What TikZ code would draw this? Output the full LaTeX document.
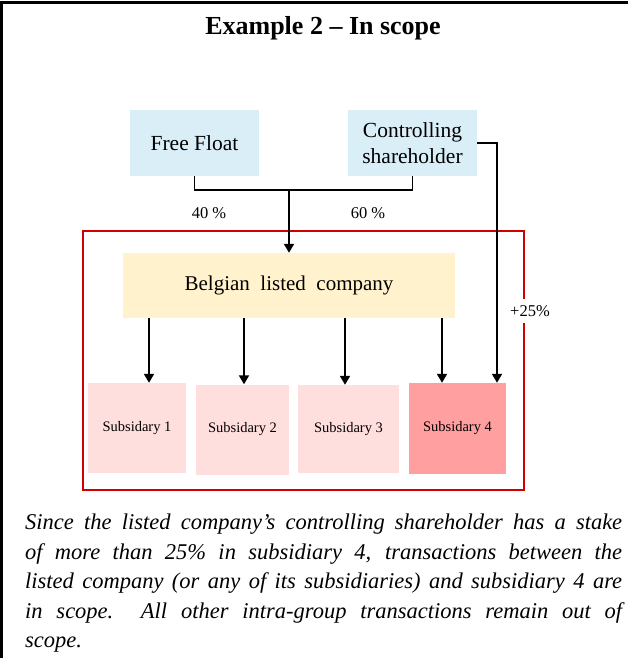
\documentclass[tikz,border=0pt]{standalone}
\usepackage{fontspec}
\setmainfont{Liberation Serif}
\usepackage{tikz}
\usetikzlibrary{arrows.meta,positioning}

\definecolor{holderblue}{HTML}{DAEEF8}
\definecolor{listedyellow}{HTML}{FFF2CC}
\definecolor{subpink}{HTML}{FFDEDE}
\definecolor{subred}{HTML}{FF9F9F}
\definecolor{scopered}{HTML}{D00000}

\begin{document}
\begin{tikzpicture}[
x=1pt, y=-1pt,
holder/.style={fill=holderblue, minimum width=129pt, minimum height=66pt, align=center, font=\fontsize{21.5}{26}\selectfont},
listed/.style={fill=listedyellow, minimum width=332pt, minimum height=65pt, font=\fontsize{21}{25}\selectfont},
subbox/.style={fill=subpink, minimum width=98pt, minimum height=90pt, font=\fontsize{14.5}{17}\selectfont},
pct/.style={font=\fontsize{16.5}{19}\selectfont},
owns/.style={-{Triangle[length=9pt,width=10pt]},line width=1.8pt},
tree/.style={line width=1.4pt}
]
    \useasboundingbox (0,0) rectangle (628,658);

    % Draw frame
    \draw[line width=2.4pt] (1.5,658) -- (1.5,2.5) -- (628,2.5);

    \node (title) at (323,28) {\bfseries\fontsize{26}{30}\selectfont Example 2 -- In scope};

    % Shareholders
    \node[holder] (ff) at (194.5,143) {Free Float};
    \node[holder] (cs) at (412.5,143) {Controlling\\shareholder};

    % Scope frame
    \draw[scopered, line width=1.3pt] (83,231) rectangle (524,490);

    \node[listed] (blc) at (289,285.5) {Belgian\ \ listed\ \ company};

    \node[subbox, minimum width=98pt] (s1) at (137,428) {Subsidary 1};
    \node[subbox, minimum width=93pt] (s2) at (242.5,429.5) {Subsidary 2};
    \node[subbox, minimum width=101pt, minimum height=88pt] (s3) at (348.5,429) {Subsidary 3};
    \node[subbox, fill=subred, minimum width=97pt, minimum height=91pt] (s4) at (457.5,428.5) {Subsidary 4};

    % Ownership lines
    \coordinate (jn) at (289,190);
    \draw[tree] (ff.south) |- (jn) -| (cs.south);
    \draw[owns] (jn) -- (blc.north);
    \node[pct] (p40) at (209,213) {40 \%};
    \node[pct] (p60) at (368,213) {60 \%};

    \draw[owns] ([xshift=12pt]s1.north |- blc.south) -- ([xshift=12pt]s1.north);
    \draw[owns] ([xshift=1.5pt]s2.north |- blc.south) -- ([xshift=1.5pt]s2.north);
    \draw[owns] ([xshift=-3.5pt]s3.north |- blc.south) -- ([xshift=-3.5pt]s3.north);
    \draw[owns] ([xshift=-15.5pt]s4.north |- blc.south) -- ([xshift=-15.5pt]s4.north);
    \draw[owns] (cs.east) -| ([xshift=39.5pt]s4.north);

    \node[pct, fill=white, inner ysep=6pt] (p25) at (530,311) {+25\%};

    % Explanation
    \node[anchor=north west, inner sep=0pt, text width=597pt, align=justify,
      font=\itshape\fontsize{22.5}{29.5}\selectfont] (note) at (25,514)
      {Since the listed company's controlling shareholder has a stake\linebreak
       of more than 25\% in subsidiary 4, transactions between the\linebreak
       listed company (or any of its subsidiaries) and subsidiary 4 are\linebreak
       in scope.\ \ All other intra-group transactions remain out of\linebreak
       scope.};
\end{tikzpicture}
\end{document}
